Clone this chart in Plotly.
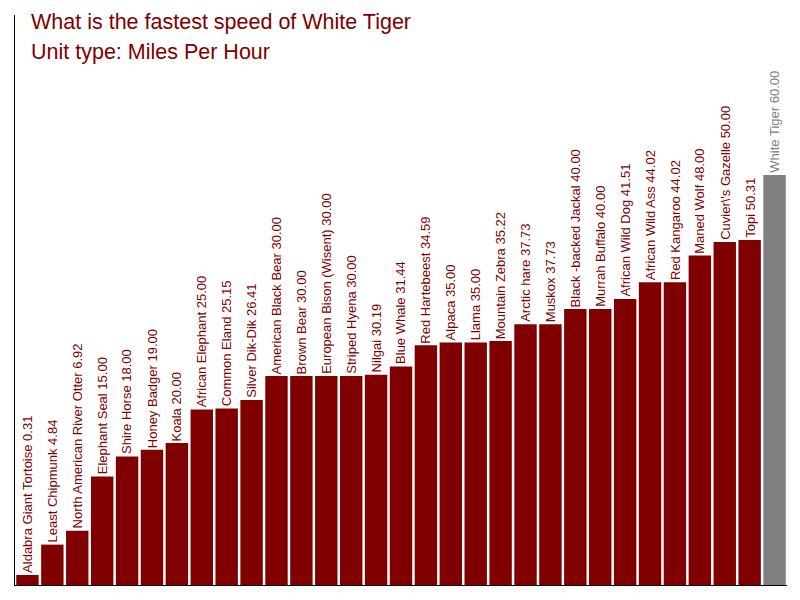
import plotly.graph_objects as go

animals = ["Aldabra Giant Tortoise", "Least Chipmunk", "North American River Otter", "Elephant Seal",
           "Shire Horse", "Honey Badger", "Koala", "African Elephant", "Common Eland", "Silver Dik-Dik",
           "American Black Bear", "Brown Bear", "European Bison (Wisent)", "Striped Hyena", "Nilgai",
           "Blue Whale", "Red Hartebeest", "Alpaca", "Llama", "Mountain Zebra", "Arctic hare", "Muskox",
           "Black -backed Jackal", "Murrah Buffalo", "African Wild Dog", "African Wild Ass", "Red Kangaroo",
           "Maned Wolf", "Cuvier\\'s Gazelle", "Topi", "White Tiger"]
speeds = [0.31, 4.84, 6.92, 15.00, 18.00, 19.00, 20.00, 25.00, 25.15, 26.41,
          30.00, 30.00, 30.00, 30.00, 30.19, 31.44, 34.59, 35.00, 35.00, 35.22,
          37.73, 37.73, 40.00, 40.00, 41.51, 44.02, 44.02, 48.00, 50.00, 50.31, 60.00]
highlight = "White Tiger"

Y_MIN, Y_MAX = -1.19, 83.9

RED = "#800000"
GRAY = "#808080"
colors = [GRAY if a == highlight else RED for a in animals]
FONT = "Liberation Sans, Arial, sans-serif"

fig = go.Figure()
# bars rise from the bottom of the axis up to each speed value
fig.add_trace(go.Bar(x=animals, y=[s - Y_MIN for s in speeds], base=Y_MIN,
                     customdata=speeds,
                     marker=dict(color=colors, line=dict(width=0)),
                     hovertemplate="%{x}: %{customdata:.2f}<extra></extra>"))

for a, v, c in zip(animals, speeds, colors):
    fig.add_annotation(x=a, y=v, xref="x", yref="y", text=f"{a} {v:.2f}", textangle=-90,
                       showarrow=False, xanchor="center", yanchor="bottom", yshift=0,
                       font=dict(family=FONT, size=13, color=c))

fig.add_annotation(xref="paper", yref="paper", x=0, y=1.0, xanchor="left", yanchor="middle",
                   xshift=14, yshift=-7, text="What is the fastest speed of White Tiger", showarrow=False,
                   font=dict(family=FONT, size=21.5, color=RED))
fig.add_annotation(xref="paper", yref="paper", x=0, y=1.0, xanchor="left", yanchor="middle",
                   xshift=14, yshift=-37, text="Unit type: Miles Per Hour", showarrow=False,
                   font=dict(family=FONT, size=21.5, color=RED))

fig.update_layout(
    width=800, height=600,
    margin=dict(l=7, r=21, t=7, b=23),
    paper_bgcolor="white", plot_bgcolor="white",
    bargap=0.1,
    showlegend=False,
    xaxis=dict(showticklabels=False, ticks="", showgrid=False, showline=True,
               linecolor="black", linewidth=1, zeroline=False),
    yaxis=dict(range=[Y_MIN, Y_MAX], showticklabels=False, ticks="", showgrid=False,
               showline=True, linecolor="black", linewidth=1, zeroline=False),
)

fig.write_html("out.html")
